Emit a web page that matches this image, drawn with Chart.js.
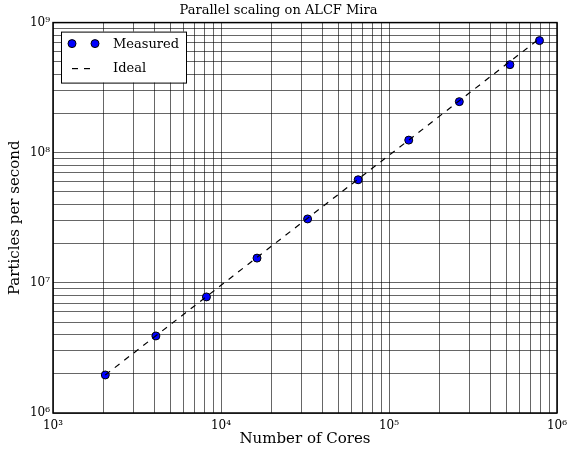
<!DOCTYPE html>
<html>
<head>
<meta charset="utf-8">
<script src="https://cdn.jsdelivr.net/npm/chart.js@4/dist/chart.umd.min.js"></script>
<style>
  html, body { margin: 0; padding: 0; background: #fff; }
  #wrap { width: 568px; height: 451px; }
</style>
</head>
<body>
<div id="wrap"><canvas id="scalingChart"></canvas></div>
<script>
// data
const cores = [2048, 4096, 8192, 16384, 32768, 65536, 131072, 262144, 524288, 786432];
const measured = [1.96e6, 3.91e6, 7.8e6, 1.55e7, 3.1e7, 6.2e7, 1.25e8, 2.47e8, 4.75e8, 7.27e8];
const ideal = [1.96e6, 3.92e6, 7.84e6, 1.57e7, 3.14e7, 6.27e7, 1.25e8, 2.51e8, 5.02e8, 7.53e8];

const xMajor = [1e3, 1e4, 1e5, 1e6];
const xMajorLabels = ['10³', '10⁴', '10⁵', '10⁶'];
const yMajor = [1e6, 1e7, 1e8, 1e9];
const yMajorLabels = ['10⁶', '10⁷', '10⁸', '10⁹'];

const serif = '"DejaVu Serif", "Liberation Serif", serif';

// major + minor tick positions (1..9 x 10^n) for the grid
function decadeTicks(majors) {
    const out = [];
    for (let i = 0; i < majors.length; i++) {
        out.push({ value: majors[i] });
        if (i < majors.length - 1) {
            for (let m = 2; m <= 9; m++) out.push({ value: majors[i] * m });
        }
    }
    return out;
}

function majorLabel(majors, labels) {
    return function (value) {
        const i = majors.indexOf(value);
        return i >= 0 ? labels[i] : '';
    };
}

// frame round the plot area + legend box inside it
const framePlugin = {
    id: 'frame',
    afterDraw(chart) {
        const { ctx, chartArea: a } = chart;
        ctx.save();
        ctx.strokeStyle = '#000';
        ctx.lineWidth = 1.5;
        ctx.strokeRect(a.left, a.top, a.right - a.left, a.bottom - a.top);

        // legend
        const lx = a.left + 8, ly = a.top + 9, lw = 125, lh = 51;
        ctx.fillStyle = '#fff';
        ctx.fillRect(lx, ly, lw, lh);
        ctx.lineWidth = 1;
        ctx.strokeRect(lx + 0.5, ly + 0.5, lw, lh);

        ctx.fillStyle = '#0000ff';
        ctx.strokeStyle = '#000';
        [lx + 11, lx + 34].forEach(cx => {
            ctx.beginPath();
            ctx.arc(cx, ly + 12, 4, 0, Math.PI * 2);
            ctx.fill();
            ctx.stroke();
        });
        ctx.setLineDash([6, 6]);
        ctx.lineWidth = 1.2;
        ctx.beginPath();
        ctx.moveTo(lx + 11, ly + 37);
        ctx.lineTo(lx + 35, ly + 37);
        ctx.stroke();
        ctx.setLineDash([]);

        ctx.fillStyle = '#000';
        ctx.font = '13px ' + serif;
        ctx.textBaseline = 'middle';
        ctx.fillText('Measured', lx + 52, ly + 13);
        ctx.fillText('Ideal', lx + 52, ly + 37);
        ctx.restore();
    }
};

const ctx = document.getElementById('scalingChart').getContext('2d');
const scalingChart = new Chart(ctx, {
    type: 'line',
    data: {
        datasets: [{
            label: 'Ideal',
            data: cores.map((c, i) => ({ x: c, y: ideal[i] })),
            borderColor: '#000',
            borderWidth: 1.2,
            borderDash: [6, 6],
            pointRadius: 0,
            fill: false,
            tension: 0
        }, {
            label: 'Measured',
            data: cores.map((c, i) => ({ x: c, y: measured[i] })),
            showLine: false,
            pointRadius: 4,
            pointBackgroundColor: '#0000ff',
            pointBorderColor: '#000',
            pointBorderWidth: 1
        }]
    },
    options: {
        responsive: true,
        maintainAspectRatio: false,
        animation: false,
        layout: {
            padding: { top: 0, right: 11, bottom: 0, left: 0 }
        },
        scales: {
            x: {
                type: 'logarithmic',
                min: 1e3,
                max: 1e6,
                afterBuildTicks: s => { s.ticks = decadeTicks(xMajor); },
                afterFit: s => { s.height = 38; s.paddingLeft = 0; s.paddingRight = 0; },
                grid: { color: 'rgba(0,0,0,0.6)', lineWidth: 1, drawTicks: false },
                border: { display: false },
                ticks: {
                    autoSkip: false,
                    maxRotation: 0,
                    padding: 6,
                    color: '#000',
                    font: { family: serif, size: 12 },
                    callback: majorLabel(xMajor, xMajorLabels)
                },
                title: {
                    display: true,
                    text: 'Number of Cores',
                    color: '#000',
                    font: { family: serif, size: 15 },
                    padding: { top: 0, bottom: 3 }
                }
            },
            y: {
                type: 'logarithmic',
                min: 1e6,
                max: 1e9,
                afterBuildTicks: s => { s.ticks = decadeTicks(yMajor); },
                afterFit: s => { s.width = 53; s.paddingTop = 0; s.paddingBottom = 0; },
                grid: { color: 'rgba(0,0,0,0.6)', lineWidth: 1, drawTicks: false },
                border: { display: false },
                ticks: {
                    autoSkip: false,
                    padding: 3,
                    color: '#000',
                    font: { family: serif, size: 12 },
                    callback: majorLabel(yMajor, yMajorLabels)
                },
                title: {
                    display: true,
                    text: 'Particles per second',
                    color: '#000',
                    font: { family: serif, size: 15 },
                    padding: { top: 6, bottom: 0 }
                }
            }
        },
        plugins: {
            legend: { display: false },
            tooltip: { enabled: false },
            title: {
                display: true,
                text: 'Parallel scaling on ALCF Mira',
                color: '#000',
                font: { family: serif, size: 13, weight: 'normal' },
                padding: { top: 3, bottom: 4 }
            }
        }
    },
    plugins: [framePlugin]
});
</script>
</body>
</html>
